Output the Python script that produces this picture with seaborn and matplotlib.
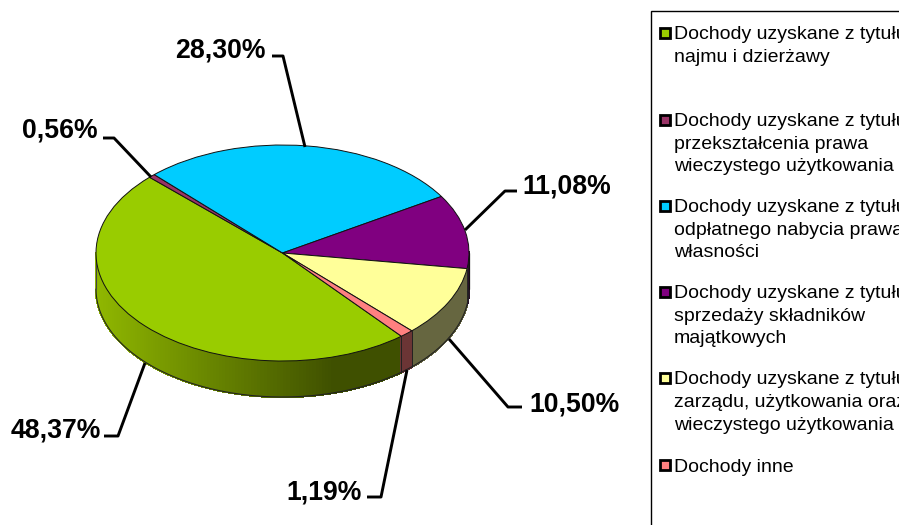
import matplotlib
matplotlib.use("Agg")
import matplotlib.pyplot as plt
import numpy as np
import seaborn as sns
from matplotlib.patches import Polygon, Rectangle

sns.set_theme(style="white")
plt.rcParams["font.family"] = ["Liberation Sans", "DejaVu Sans"]

values = [48.37, 0.56, 28.30, 11.08, 10.50, 1.19]
value_labels = ["48,37%", "0,56%", "28,30%", "11,08%", "10,50%", "1,19%"]
top_hex = ["#99CC00", "#993366", "#00CCFF", "#800080", "#FFFF99", "#FF8080"]
side_hex = ["#3F5400", "#5A1E3C", "#007A99", "#2A102A", "#666640", "#6B3535"]
legend_lines = [
    ["Dochody uzyskane z tytułu", "najmu i dzierżawy"],
    ["Dochody uzyskane z tytułu", "przekształcenia prawa", "wieczystego użytkowania"],
    ["Dochody uzyskane z tytułu", "odpłatnego nabycia prawa", "własności"],
    ["Dochody uzyskane z tytułu", "sprzedaży składników", "majątkowych"],
    ["Dochody uzyskane z tytułu", "zarządu, użytkowania oraz", "wieczystego użytkowania"],
    ["Dochody inne"],
]
palette = sns.color_palette(top_hex)

W, H = 899, 525
CX, CY, RX, RY, DEPTH = 282.5, 253.0, 186.5, 108.0, 36.0
START = 309.6


def P(px, py):
    return (px - CX) / RX, (CY - py) / RY


fig = plt.figure(figsize=(W / 100, H / 100), dpi=100, facecolor="white")
ax = fig.add_axes([0, 0, 1, 1])

# slice angles, clockwise from the start angle
edges = START - np.cumsum([0] + values) * 3.6
d = DEPTH / RY


def side_colour(i, x):
    if i != 0:
        return side_hex[i]
    t = np.clip((x - 96) / (335 - 96), 0, 1)
    a = np.array(matplotlib.colors.to_rgb("#90B800"))
    b = np.array(matplotlib.colors.to_rgb("#3F5000"))
    return tuple(a + (b - a) * t)


for i in range(len(values)):
    hi, lo = edges[i], edges[i + 1]
    th = np.radians(np.linspace(lo, hi, max(3, int(abs(hi - lo)) + 1)))
    for a0, a1 in zip(th[:-1], th[1:]):
        if np.sin(a0) > 0.0 and np.sin(a1) > 0.0:
            continue
        x0, x1 = np.cos(a0), np.cos(a1)
        y0, y1 = np.sin(a0), np.sin(a1)
        c = side_colour(i, CX + RX * (x0 + x1) / 2)
        ax.add_patch(Polygon([(x0, y0), (x1, y1), (x1, y1 - d), (x0, y0 - d)],
                             closed=True, fc=c, ec=c, lw=1.0, antialiased=False, zorder=1))

# outline of the side wall and the seams between slices
th = np.radians(np.linspace(180, 360, 300))
ax.plot(np.cos(th), np.sin(th) - d, color="#222222", lw=0.8, zorder=2)
ax.plot([-1, -1], [0, -d], color="#444444", lw=0.8, zorder=2)
ax.plot([1, 1], [0, -d], color="#111111", lw=0.9, zorder=2)
for e in edges:
    s = np.radians(e)
    if np.sin(s) < 0:
        ax.plot([np.cos(s)] * 2, [np.sin(s), np.sin(s) - d], color="#222222", lw=0.7, zorder=2)

wedges, _ = ax.pie(values, colors=palette, startangle=START, counterclock=False,
                   radius=1, center=(0, 0), normalize=True,
                   wedgeprops=dict(edgecolor="#111111", linewidth=0.7, zorder=3))
ax.set_aspect("auto")
ax.set_xlim(P(0, 0)[0], P(W, 0)[0])
ax.set_ylim(P(0, H)[1], P(0, 0)[1])
ax.axis("off")

# leader lines and percentage labels, in the order of `values`
leaders = [
    [(104, 436), (118, 436), (145, 363)],
    [(103, 138), (114, 138), (151, 177)],
    [(272, 56), (283, 56), (305, 147)],
    [(517, 191), (505, 191), (465, 230)],
    [(522, 407), (508, 407), (449, 339)],
    [(367, 497), (381, 497), (407, 370)],
]
label_pos = [(101, 437, "right"), (98, 138, "right"), (266, 58, "right"),
             (522, 194, "left"), (529, 411, "left"), (362, 499, "right")]
for pts, (lx, ly, ha), txt in zip(leaders, label_pos, value_labels):
    q = np.array([P(*p) for p in pts])
    ax.plot(q[:, 0], q[:, 1], color="black", lw=2.1, zorder=4,
            solid_joinstyle="round", solid_capstyle="butt")
    ax.text(*P(lx, ly), txt, ha=ha, va="baseline", fontsize=19.2, fontweight="bold",
            color="black", zorder=5)

# legend frame, cut by the picture's right and bottom edge
x0, y0 = P(650.5, 11.5)
x1, y1 = P(W + 20, H + 20)
ax.add_patch(Rectangle((x0, y1), x1 - x0, y0 - y1, fc="white", ec="black", lw=1.0,
                       zorder=1, clip_on=True))

swatch_y = [33, 120, 206, 292, 378, 465]
order = [0, 1, 2, 3, 4, 5]
line_gap = 22.5
for idx, sy, lines in zip(order, swatch_y, legend_lines):
    a, b = P(659.5, sy + 5), P(669.5, sy - 5)
    ax.add_patch(Rectangle(a, b[0] - a[0], b[1] - a[1], fc=top_hex[idx], ec="black",
                           lw=2.0, zorder=5))
    for k, line in enumerate(lines):
        ax.text(*P(674, sy + 6.5 + k * line_gap), line, ha="left", va="baseline",
                fontsize=14.0, color="black", zorder=5)

fig.savefig("out.png", dpi=100)
